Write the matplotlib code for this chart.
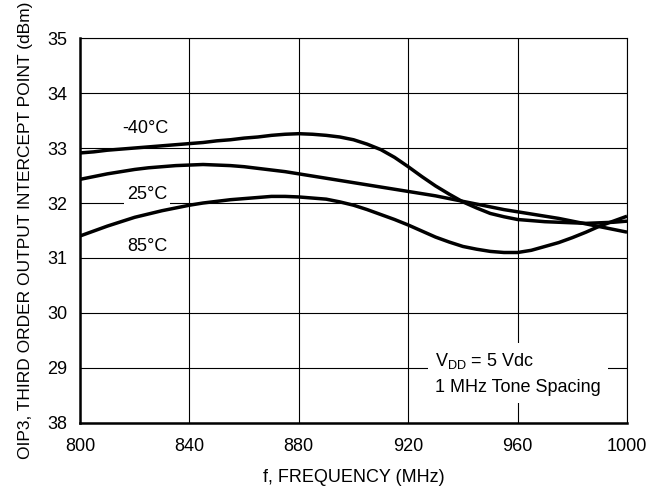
import matplotlib
matplotlib.use("Agg")
import matplotlib.pyplot as plt

plt.rcParams["font.family"] = ["Liberation Sans", "DejaVu Sans"]
plt.rcParams["mathtext.fontset"] = "custom"
plt.rcParams["mathtext.rm"] = "Liberation Sans"
plt.rcParams["mathtext.it"] = "Liberation Sans"

# frequency (MHz), 5 MHz steps
FREQ = [800, 805, 810, 815, 820, 825, 830, 835, 840, 845, 850, 855, 860, 865,
        870, 875, 880, 885, 890, 895, 900, 905, 910, 915, 920, 925, 930, 935,
        940, 945, 950, 955, 960, 965, 970, 975, 980, 985, 990, 995, 1000]

# OIP3 (dBm) per temperature
OIP3_M40 = [32.91, 32.93, 32.96, 32.98, 33.00, 33.02, 33.04, 33.06, 33.08, 33.10,
            33.13, 33.15, 33.18, 33.20, 33.23, 33.25, 33.26, 33.25, 33.23, 33.20,
            33.15, 33.07, 32.97, 32.83, 32.66, 32.48, 32.31, 32.16, 32.02, 31.91,
            31.81, 31.75, 31.70, 31.68, 31.66, 31.65, 31.64, 31.63, 31.64, 31.65,
            31.67]
OIP3_25 = [32.43, 32.48, 32.53, 32.57, 32.61, 32.64, 32.66, 32.68, 32.69, 32.70,
           32.69, 32.68, 32.66, 32.63, 32.60, 32.57, 32.53, 32.49, 32.45, 32.41,
           32.37, 32.33, 32.29, 32.25, 32.21, 32.17, 32.13, 32.08, 32.03, 31.98,
           31.93, 31.88, 31.84, 31.80, 31.76, 31.72, 31.67, 31.62, 31.57, 31.52,
           31.47]
OIP3_85 = [31.40, 31.49, 31.58, 31.66, 31.74, 31.80, 31.86, 31.91, 31.96, 32.00,
           32.03, 32.06, 32.08, 32.10, 32.12, 32.12, 32.11, 32.09, 32.07, 32.02,
           31.96, 31.88, 31.79, 31.70, 31.60, 31.49, 31.38, 31.29, 31.21, 31.16,
           31.12, 31.10, 31.10, 31.14, 31.21, 31.28, 31.37, 31.47, 31.58, 31.67,
           31.76]

X_TICKS = [800, 840, 880, 920, 960, 1000]
Y_TICKS = [28, 29, 30, 31, 32, 33, 34, 35]
Y_LABELS = ["38", "29", "30", "31", "32", "33", "34", "35"]

fig = plt.figure(figsize=(6.52, 4.91), dpi=100)
ax = fig.add_axes([0.1227, 0.1385, 0.8390, 0.7841])

for y in OIP3_M40, OIP3_25, OIP3_85:
    ax.plot(FREQ, y, color="black", lw=2.5, solid_capstyle="butt", zorder=3)

ax.set_xlim(800, 1000)
ax.set_ylim(28, 35)
ax.set_xticks(X_TICKS)
ax.set_yticks(Y_TICKS)
ax.set_yticklabels(Y_LABELS)
ax.tick_params(length=0, labelsize=13)
ax.tick_params(axis="y", pad=9)
ax.tick_params(axis="x", pad=11)
ax.grid(True, color="black", lw=0.8, zorder=1)

for side in ("left", "bottom"):
    ax.spines[side].set_linewidth(1.8)
for side in ("top", "right"):
    ax.spines[side].set_linewidth(0.8)

ax.set_xlabel("f, FREQUENCY (MHz)", fontsize=13, labelpad=10)
ax.set_ylabel("OIP3, THIRD ORDER OUTPUT INTERCEPT POINT (dBm)", fontsize=12.5, labelpad=10)

lbl = dict(fontsize=13, ha="center", va="center", zorder=4)
ax.text(824, 33.36, "-40°C", **lbl)
ax.text(824.5, 32.16, "25°C",
        bbox=dict(fc="white", ec="none", pad=2), **lbl)
ax.text(824.5, 31.2, "85°C", **lbl)

ax.text(929.8, 28.9, "V$_{\\mathrm{DD}}$ = 5 Vdc\n1 MHz Tone Spacing",
        fontsize=13, ha="left", va="center", linespacing=1.6, zorder=4,
        bbox=dict(fc="white", ec="none", pad=5))

fig.savefig("out.png", dpi=100)
